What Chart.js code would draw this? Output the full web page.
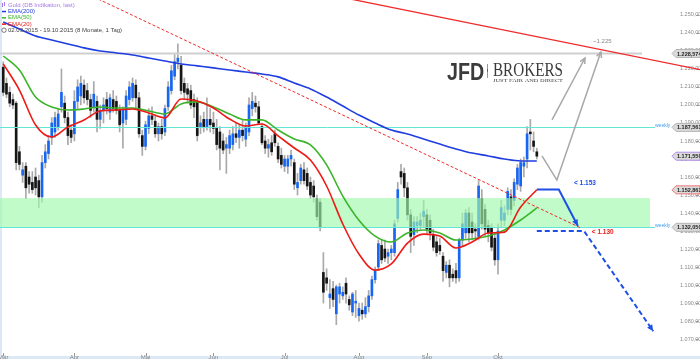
<!DOCTYPE html>
<html>
<head>
<meta charset="utf-8">
<script src="https://cdn.jsdelivr.net/npm/chart.js@4.4.0/dist/chart.umd.min.js"></script>
<style>
    html, body { margin: 0; padding: 0; background: #fff; }
    #wrap { width: 700px; height: 359px; position: relative; }
</style>
</head>
<body>
<div id="wrap"><canvas id="gold" width="700" height="359"></canvas></div>
<script>
// daily candles, trading day index 0 = 02.03.2015 ... 165 = 19.10.2015
var open = [1221,1212,1207,1203,1201,1174,1161,1166,1160,1157,1160,1158,1149,1168,1173,1182,1185,1188,1199,1201,
    1193,1186,1184,1202,1205,1211,1208,1203,1199,1202,1192,1197,1203,1196,1203,1202,1197,1190,1192,1203,
    1204,1211,1204,1183,1177,1187,1194,1191,1184,1188,1185,1199,1208,1216,1224,1222,1212,1209,1208,1203,
    1202,1188,1192,1188,1192,1190,1187,1185,1180,1176,1176,1178,1184,1182,1186,1181,1185,1198,1201,1199,
    1188,1180,1176,1179,1184,1177,1172,1166,1166,1170,1168,1154,1158,1164,1162,1157,1155,1148,1146,1107,
    1104,1093,1098,1084,1095,1094,1101,1092,1085,1090,1083,1086,1084,1088,1094,1103,1110,1122,1120,1116,
    1118,1118,1137,1163,1162,1154,1139,1128,1133,1133,1138,1139,1136,1128,1124,1122,1116,1107,1111,1106,
    1108,1104,1125,1129,1140,1135,1131,1127,1148,1142,1133,1132,1126,1114,1136,1136,1142,1149,1147,1156,
    1155,1166,1170,1185,1180,1174];
var high = [1224,1215,1210,1206,1202,1177,1168,1168,1163,1163,1165,1161,1172,1178,1183,1193,1196,1198,1220,1205,
    1196,1189,1208,1214,1216,1214,1212,1206,1213,1205,1200,1204,1207,1206,1208,1205,1200,1199,1208,1213,
    1215,1214,1207,1186,1191,1198,1199,1194,1190,1192,1200,1213,1222,1228,1234,1227,1215,1212,1211,1206,
    1204,1194,1196,1204,1198,1196,1192,1188,1184,1182,1186,1188,1190,1189,1192,1190,1204,1207,1205,1202,
    1190,1183,1181,1183,1186,1179,1176,1172,1172,1175,1170,1162,1167,1168,1165,1160,1158,1150,1148,1118,
    1109,1103,1102,1100,1101,1099,1104,1094,1096,1097,1090,1090,1093,1097,1105,1110,1125,1125,1125,1120,
    1122,1136,1157,1167,1165,1157,1142,1138,1138,1140,1147,1142,1139,1131,1127,1126,1118,1113,1114,1109,
    1112,1126,1140,1142,1143,1140,1134,1158,1153,1145,1136,1134,1129,1134,1147,1144,1154,1153,1159,1167,
    1170,1171,1188,1192,1185,1176];
var low = [1205,1204,1199,1198,1164,1164,1157,1148,1151,1151,1150,1143,1146,1165,1170,1178,1182,1186,1196,1190,
    1178,1179,1180,1198,1200,1201,1200,1193,1196,1185,1187,1190,1195,1192,1196,1195,1185,1176,1189,1200,
    1202,1198,1182,1172,1175,1184,1189,1182,1180,1181,1183,1197,1206,1214,1220,1206,1203,1201,1198,1193,
    1180,1184,1185,1186,1185,1184,1175,1164,1173,1162,1173,1175,1179,1176,1180,1177,1183,1194,1196,1189,
    1178,1173,1171,1172,1177,1168,1165,1163,1162,1166,1153,1150,1156,1156,1153,1148,1146,1136,1130,1090,
    1097,1087,1088,1078,1090,1092,1090,1086,1083,1082,1080,1081,1082,1085,1092,1101,1108,1112,1113,1112,
    1114,1116,1135,1156,1149,1136,1118,1122,1129,1131,1132,1128,1125,1119,1116,1117,1102,1104,1099,1102,
    1101,1102,1122,1126,1124,1125,1126,1125,1131,1127,1124,1119,1111,1106,1132,1133,1139,1139,1144,1153,
    1152,1160,1165,1175,1174,1170];
var close = [1207,1206,1201,1200,1168,1167,1164,1154,1156,1153,1154,1149,1168,1174,1180,1190,1193,1195,1207,1193,
    1183,1182,1202,1210,1212,1204,1203,1197,1206,1192,1197,1200,1198,1204,1198,1197,1189,1197,1205,1210,
    1212,1204,1184,1177,1189,1194,1192,1184,1188,1184,1198,1210,1219,1224,1226,1208,1207,1206,1200,1199,
    1183,1190,1188,1192,1189,1187,1178,1176,1175,1178,1183,1184,1182,1186,1183,1188,1200,1202,1199,1190,
    1179,1176,1178,1174,1179,1170,1167,1170,1170,1172,1156,1157,1165,1158,1155,1150,1149,1138,1132,1096,
    1101,1095,1092,1099,1099,1096,1095,1089,1095,1091,1087,1084,1088,1094,1103,1108,1123,1114,1115,1118,
    1120,1134,1153,1160,1154,1139,1127,1135,1135,1136,1141,1131,1129,1121,1118,1119,1108,1111,1104,1104,
    1104,1125,1134,1140,1129,1129,1130,1155,1134,1131,1129,1121,1114,1130,1143,1140,1152,1142,1157,1165,
    1168,1168,1184,1184,1177,1171.55];

var emaIdx = [0,5,10,15,20,25,30,35,40,45,50,55,60,65,70,75,80,85,90,95,100,105,110,115,120,125,130,135,140,145,150,155,160,165];
var ema200 = [1246.1,1242.2,1238.3,1236.1,1233.9,1231.7,1230,1228.9,1227.8,1226.1,1224.4,1222.8,1221.7,1220.6,1219.4,1218.3,1217.2,
    1215.6,1212.2,1208.9,1204.4,1199.4,1194.4,1190,1186.1,1183.9,1181.1,1178.3,1175.6,1173.3,1171.7,1170,1168.9,1168.9];
var ema50 = [1227.2,1219.4,1204.4,1198.9,1197.2,1197.8,1198.9,1198.3,1198.3,1196.7,1195,1200.6,1201.7,1198.9,1195,1191.7,1191.7,
    1186.1,1181.1,1177.8,1166.7,1149.4,1136,1127.2,1123.9,1128.9,1130.6,1128.9,1125,1125.6,1127.2,1130.6,1136.1,1142.8];
var ema20 = [1222.8,1208.3,1188.9,1182.2,1187.8,1191.7,1196.7,1197.2,1197.8,1195.6,1192.8,1203.3,1202.2,1198.3,1192.2,1188.3,1189.4,
    1182.8,1176.1,1169.4,1155,1133.9,1117.2,1108.3,1111.7,1123.3,1128.3,1127.2,1120.6,1123.9,1128.9,1129.4,1143.3,1152.9];

var monthIdx = [0, 22, 44, 65, 87, 110, 131, 153];
var monthLbl = ['Mär', 'Apr', 'Mai', 'Jun', 'Jul', 'Aug', 'Sep', 'Okt'];
var yTicks = [1070,1080,1090,1100,1110,1120,1130,1140,1150,1160,1170,1180,1190,1200,1210,1220,1230,1240,1250];

// levels and drawn annotations (index, price)
var resistLevel = 1228.574;
var weeklyHigh = 1187.561;
var weeklyLow = 1132.05;
var bandTop = 1148.3;
var lastPrice = 1171.55;
var ema20Last = 1152.863;
var redTrend = [[100, 1261.5], [216, 1219.4]];
var redDashTrend = [[28, 1260], [178.6, 1131.7]];
var greyArrowA = [[169.7, 1191.7], [179.9, 1226.1]];
var greyArrowB = [[166.6, 1171.7], [171.2, 1158.3], [184.8, 1229.4]];
var blueSolid = [[165, 1153], [171.8, 1153], [177.7, 1132.8]];
var blueDashed = [[165, 1130], [179.6, 1130], [201, 1074.4]];

var FONT = 'Arial, "Liberation Sans", sans-serif';

function fmtDe(v) {
    var s = v.toFixed(3).split('.');
    return s[0].replace(/\B(?=(\d{3})+(?!\d))/g, '.') + ',' + s[1];
}

function toPoints(xs, ys) {
    return xs.map(function (x, i) { return { x: x, y: ys[i] }; });
}

var wickData = open.map(function (o, i) { return { x: i, y: [low[i], high[i]] }; });
var bodyData = open.map(function (o, i) {
    var lo = Math.min(o, close[i]), hi = Math.max(o, close[i]);
    if (hi - lo < 0.6) { hi = lo + 0.6; }
    return { x: i, y: [lo, hi] };
});
var bodyColor = open.map(function (o, i) { return close[i] >= o ? '#1766f2' : '#161616'; });

function px(chart, p) {
    return [chart.scales.x.getPixelForValue(p[0]), chart.scales.y.getPixelForValue(p[1])];
}

function path(ctx, chart, pts) {
    ctx.beginPath();
    pts.forEach(function (p, i) {
        var q = px(chart, p);
        if (i === 0) ctx.moveTo(q[0], q[1]); else ctx.lineTo(q[0], q[1]);
    });
    ctx.stroke();
}

function arrowHead(ctx, chart, from, to, size, filled) {
    var a = px(chart, from), b = px(chart, to);
    var ang = Math.atan2(b[1] - a[1], b[0] - a[0]);
    var l = [b[0] - size * Math.cos(ang - 0.45), b[1] - size * Math.sin(ang - 0.45)];
    var r = [b[0] - size * Math.cos(ang + 0.45), b[1] - size * Math.sin(ang + 0.45)];
    ctx.setLineDash([]);
    ctx.beginPath();
    ctx.moveTo(l[0], l[1]);
    ctx.lineTo(b[0], b[1]);
    ctx.lineTo(r[0], r[1]);
    if (filled) { ctx.closePath(); ctx.fill(); } else { ctx.stroke(); }
}

function tag(ctx, x0, y, text, stroke) {
    var h = 8;
    ctx.beginPath();
    ctx.moveTo(x0, y);
    ctx.lineTo(x0 + 4, y - h / 2);
    ctx.lineTo(700, y - h / 2);
    ctx.lineTo(700, y + h / 2);
    ctx.lineTo(x0 + 4, y + h / 2);
    ctx.closePath();
    ctx.fillStyle = '#dadada';
    ctx.fill();
    ctx.lineWidth = 1;
    ctx.strokeStyle = stroke;
    ctx.stroke();
    ctx.fillStyle = '#222';
    ctx.font = 'bold 5.5px ' + FONT;
    ctx.textAlign = 'left';
    ctx.textBaseline = 'middle';
    ctx.fillText(text, x0 + 5, y + 0.5);
}

var overlay = {
    id: 'overlay',
    beforeDraw: function (chart) {
        var ctx = chart.ctx;
        ctx.save();
        ctx.fillStyle = '#fff';
        ctx.fillRect(0, 0, 700, 359);
        ctx.fillStyle = '#dde8f6';
        ctx.fillRect(0, 0, 2, 356);
        ctx.fillRect(0, 356, 700, 3);
        ctx.restore();
    },
    afterDatasetDraw: function (chart, args) {
        if (args.index !== 1) return;
        var ctx = chart.ctx, area = chart.chartArea, y = chart.scales.y;
        ctx.save();
        var yTop = y.getPixelForValue(bandTop), yBot = y.getPixelForValue(weeklyLow);
        ctx.fillStyle = 'rgba(158, 249, 172, 0.65)';
        ctx.fillRect(area.left, yTop, area.right - area.left, yBot - yTop);
        // weekly levels
        ctx.strokeStyle = '#62e6d6';
        ctx.lineWidth = 1;
        [weeklyHigh, weeklyLow].forEach(function (v) {
            var yy = Math.round(y.getPixelForValue(v)) + 0.5;
            ctx.beginPath();
            ctx.moveTo(area.left, yy);
            ctx.lineTo(area.right + 5, yy);
            ctx.stroke();
        });
        // resistance
        ctx.strokeStyle = '#cfcfcf';
        ctx.lineWidth = 2;
        var yr = y.getPixelForValue(resistLevel);
        ctx.beginPath();
        ctx.moveTo(area.left, yr);
        ctx.lineTo(area.right - 8, yr);
        ctx.stroke();
        ctx.restore();
    },
    afterDraw: function (chart) {
        var ctx = chart.ctx, area = chart.chartArea, xs = chart.scales.x, ys = chart.scales.y;
        ctx.save();

        // axis tick marks
        ctx.strokeStyle = '#999';
        ctx.lineWidth = 1;
        yTicks.forEach(function (v) {
            var yy = Math.round(ys.getPixelForValue(v)) + 0.5;
            ctx.beginPath(); ctx.moveTo(696, yy); ctx.lineTo(699, yy); ctx.stroke();
        });
        monthIdx.forEach(function (v) {
            var xx = Math.round(xs.getPixelForValue(v)) + 0.5;
            ctx.beginPath(); ctx.moveTo(xx, 353); ctx.lineTo(xx, 356); ctx.stroke();
        });

        // trend lines
        ctx.strokeStyle = '#f02a2a';
        ctx.lineWidth = 1.3;
        path(ctx, chart, redTrend);
        ctx.lineWidth = 1;
        ctx.setLineDash([3, 2]);
        path(ctx, chart, redDashTrend);
        ctx.setLineDash([]);

        // scenario arrows
        ctx.strokeStyle = '#a8a8a8';
        ctx.lineWidth = 1.5;
        path(ctx, chart, greyArrowA);
        arrowHead(ctx, chart, greyArrowA[0], greyArrowA[1], 6, false);
        path(ctx, chart, greyArrowB);
        arrowHead(ctx, chart, greyArrowB[1], greyArrowB[2], 6, false);

        ctx.strokeStyle = '#1e4fe6';
        ctx.fillStyle = '#1e4fe6';
        ctx.lineWidth = 2;
        path(ctx, chart, blueSolid);
        arrowHead(ctx, chart, blueSolid[1], blueSolid[2], 7, true);
        ctx.setLineDash([5, 3]);
        path(ctx, chart, blueDashed);
        arrowHead(ctx, chart, blueDashed[1], blueDashed[2], 7, true);
        ctx.setLineDash([]);

        // labels on the arrows
        ctx.textBaseline = 'middle';
        ctx.textAlign = 'left';
        ctx.font = '6px ' + FONT;
        ctx.fillStyle = '#888';
        var t = px(chart, [182.4, 1235.6]);
        ctx.fillText('~1.225', t[0], t[1]);
        ctx.font = 'bold 6.5px ' + FONT;
        ctx.fillStyle = '#1e4fe6';
        t = px(chart, [176.5, 1156.7]);
        ctx.fillText('< 1.153', t[0], t[1]);
        ctx.fillStyle = '#e8201c';
        t = px(chart, [182, 1129.4]);
        ctx.fillText('< 1.130', t[0], t[1]);

        // weekly captions and value tags
        ctx.font = '5px ' + FONT;
        ctx.fillStyle = '#3d9cf0';
        [weeklyHigh, weeklyLow].forEach(function (v) {
            ctx.fillText('weekly', area.right + 5, ys.getPixelForValue(v) - 2);
        });
        var tx = area.right + 22;
        tag(ctx, tx, ys.getPixelForValue(resistLevel), fmtDe(resistLevel), '#b4b4b4');
        tag(ctx, tx, ys.getPixelForValue(weeklyHigh), fmtDe(weeklyHigh), '#b4b4b4');
        tag(ctx, tx, ys.getPixelForValue(lastPrice), fmtDe(lastPrice), '#b48ee8');
        tag(ctx, tx, ys.getPixelForValue(ema20Last), fmtDe(ema20Last), '#f07878');
        tag(ctx, tx, ys.getPixelForValue(weeklyLow), fmtDe(weeklyLow), '#b4b4b4');

        // broker logo
        ctx.textBaseline = 'alphabetic';
        ctx.fillStyle = '#3b3b3b';
        ctx.save();
        ctx.translate(447, 80);
        ctx.scale(0.82, 1);
        ctx.font = 'bold 24px ' + FONT;
        ctx.fillText('JFD', 0, 0);
        ctx.restore();
        ctx.fillStyle = '#999';
        ctx.fillRect(487, 64, 1, 14);
        ctx.fillStyle = '#e03030';
        ctx.fillRect(487, 69, 1, 3);
        ctx.fillStyle = '#3b3b3b';
        ctx.save();
        ctx.translate(493, 75.5);
        ctx.font = '18px "Liberation Serif", "DejaVu Serif", serif';
        var w = ctx.measureText('BROKERS').width;
        ctx.scale(70 / w, 1);
        ctx.fillText('BROKERS', 0, 0);
        ctx.restore();
        ctx.save();
        ctx.translate(493, 82);
        ctx.font = '5px "Liberation Serif", "DejaVu Serif", serif';
        w = ctx.measureText('JUST FAIR AND DIRECT').width;
        ctx.scale(70 / w, 1);
        ctx.fillText('JUST FAIR AND DIRECT', 0, 0);
        ctx.restore();

        // header legend
        ctx.textBaseline = 'middle';
        ctx.font = '6px ' + FONT;
        var rows = [
            ['Gold (DB Indikation, last)', '#a77ce6'],
            ['EMA(200)', '#1f3de0'],
            ['EMA(50)', '#3cb42a'],
            ['EMA(20)', '#e8201c'],
            ['02.03.2015 - 19.10.2015 (8 Monate, 1 Tag)', '#444']
        ];
        rows.forEach(function (r, i) {
            var yy = 5 + i * 6.3;
            ctx.fillStyle = r[1];
            ctx.fillText(r[0], 8, yy);
            if (i >= 1 && i <= 3) ctx.fillRect(2, yy - 0.5, 4, 1.5);
        });
        ctx.fillStyle = '#a77ce6';
        ctx.fillRect(2, 3, 1, 4);
        ctx.fillRect(4, 2, 1, 4);
        ctx.strokeStyle = '#444';
        ctx.lineWidth = 0.7;
        ctx.beginPath();
        ctx.arc(4, 5 + 4 * 6.3, 2.2, 0, Math.PI * 2);
        ctx.stroke();
        ctx.restore();
    }
};

new Chart(document.getElementById('gold'), {
    data: {
        datasets: [{
            type: 'bar',
            data: wickData,
            backgroundColor: '#a9a9a9',
            barThickness: 1,
            grouped: false,
            order: 5
        }, {
            type: 'bar',
            data: bodyData,
            backgroundColor: bodyColor,
            barThickness: 2,
            grouped: false,
            minBarLength: 1,
            order: 4
        }, {
            type: 'line',
            data: toPoints(emaIdx, ema200),
            borderColor: '#1f3de0',
            borderWidth: 1.6,
            pointRadius: 0,
            cubicInterpolationMode: 'monotone',
            order: 3
        }, {
            type: 'line',
            data: toPoints(emaIdx, ema50),
            borderColor: '#3cb42a',
            borderWidth: 1.6,
            pointRadius: 0,
            cubicInterpolationMode: 'monotone',
            order: 2
        }, {
            type: 'line',
            data: toPoints(emaIdx, ema20),
            borderColor: '#ee1a16',
            borderWidth: 1.6,
            pointRadius: 0,
            cubicInterpolationMode: 'monotone',
            order: 1
        }]
    },
    options: {
        responsive: false,
        animation: false,
        devicePixelRatio: 1,
        layout: { padding: 0 },
        plugins: { legend: { display: false }, tooltip: { enabled: false } },
        scales: {
            x: {
                type: 'linear',
                min: -1,
                max: 200,
                offset: false,
                position: 'bottom',
                grid: { display: false, offset: false },
                border: { display: false },
                afterBuildTicks: function (s) {
                    s.ticks = monthIdx.map(function (v) { return { value: v }; });
                },
                ticks: {
                    autoSkip: false,
                    maxRotation: 0,
                    padding: 1,
                    color: '#888',
                    font: { size: 6, family: FONT },
                    callback: function (v) { return monthLbl[monthIdx.indexOf(v)]; }
                },
                afterFit: function (s) {
                    s.height = 14;
                    s.paddingLeft = 0;
                    s.paddingRight = 0;
                }
            },
            y: {
                position: 'right',
                min: 1066.7,
                max: 1258.3,
                grid: { display: false },
                border: { display: false },
                afterBuildTicks: function (s) {
                    s.ticks = yTicks.map(function (v) { return { value: v }; });
                },
                ticks: {
                    padding: 22,
                    crossAlign: 'near',
                    color: '#8a8a8a',
                    font: { size: 5.5, family: FONT },
                    callback: function (v) { return fmtDe(v); }
                },
                afterFit: function (s) {
                    s.width = 50;
                    s.paddingTop = 0;
                    s.paddingBottom = 0;
                }
            }
        }
    },
    plugins: [overlay]
});
</script>
</body>
</html>
